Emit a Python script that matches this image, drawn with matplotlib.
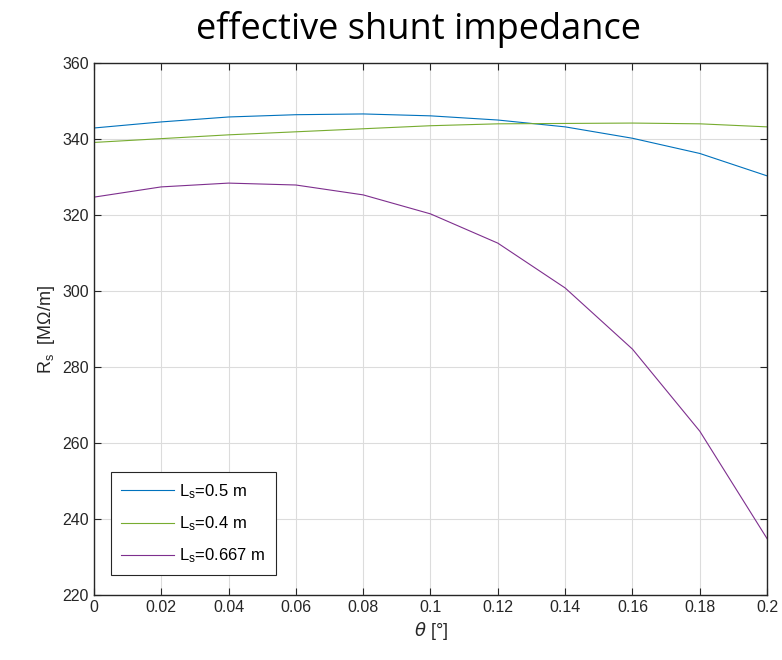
import numpy as np
import matplotlib.pyplot as plt

# shunt impedance vs. angle for three structure lengths
theta = [0, 0.02, 0.04, 0.06, 0.08, 0.10, 0.12, 0.14, 0.16, 0.18, 0.20]
rs_05 = [342.9, 344.5, 345.8, 346.4, 346.6, 346.1, 345.0, 343.2, 340.2, 336.2, 330.3]
rs_04 = [339.1, 340.1, 341.1, 341.9, 342.7, 343.5, 344.0, 344.1, 344.2, 344.0, 343.2]
rs_0667 = [324.7, 327.4, 328.4, 327.9, 325.3, 320.3, 312.6, 300.8, 284.7, 263.1, 234.8]
labels = [r'$\mathregular{L_s}$=0.5 m', r'$\mathregular{L_s}$=0.4 m', r'$\mathregular{L_s}$=0.667 m']
colors = ['#0072BD', '#77AC30', '#7E2F8E']

plt.rcParams['font.family'] = ['Liberation Sans', 'DejaVu Sans']

fig = plt.figure(figsize=(7.82, 6.6), dpi=100)
ax = fig.add_axes([0.120, 0.0985, 0.861, 0.806])

for y, l, c in zip([rs_05, rs_04, rs_0667], labels, colors):
    ax.plot(theta, y, color=c, linewidth=0.8, label=l)

ax.set_xlim(0, 0.2)
ax.set_ylim(220, 360)
ax.set_xticks(np.arange(0, 0.201, 0.02))
ax.set_xticklabels(['0', '0.02', '0.04', '0.06', '0.08', '0.1', '0.12', '0.14', '0.16', '0.18', '0.2'])
ax.set_yticks(np.arange(220, 361, 20))
ax.grid(True, color='#dcdcdc', linewidth=0.8)
ax.tick_params(direction='in', top=True, right=True, labelsize=11.5, colors='#262626', length=5)
for s in ax.spines.values():
    s.set_color('#262626')
    s.set_linewidth(1.0)

ax.set_xlabel(r'$\theta$ [°]', fontsize=13, color='#262626')
ax.set_ylabel(r'$\mathregular{R_s}$  [MΩ/m]', fontsize=13, color='#262626')
fig.text(0.535, 0.955, 'effective shunt impedance', ha='center', va='center',
         fontsize=26, family=['Open Sans', 'DejaVu Sans'])

leg = ax.legend(loc='lower left', bbox_to_anchor=(0.018, 0.028), fontsize=12,
                fancybox=False, framealpha=1, edgecolor='#262626', handlelength=3.2,
                borderpad=0.6, labelspacing=0.8, handletextpad=0.3, borderaxespad=0.3)
leg.get_frame().set_linewidth(0.8)

fig.savefig('out.png')
